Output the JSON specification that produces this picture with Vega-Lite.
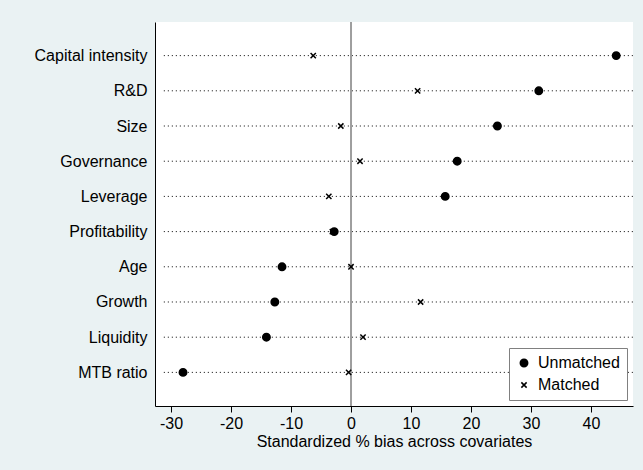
{
  "$schema": "https://vega.github.io/schema/vega-lite/v6.json",
  "autosize": {"type": "none"},
  "width": 478,
  "height": 384,
  "padding": {"left": 155, "top": 22, "right": 10, "bottom": 64},
  "background": "#EAF2F3",
  "config": {
    "view": {"stroke": null, "fill": "white"},
    "font": "Liberation Sans",
    "axis": {"labelFont": "Liberation Sans", "titleFont": "Liberation Sans", "labelColor": "black", "titleColor": "black", "domainColor": "black", "tickColor": "black", "grid": false, "labelFontSize": 16, "titleFontSize": 16, "titleFontWeight": "normal"},
    "legend": {"labelFont": "Liberation Sans", "labelFontSize": 16, "labelColor": "black"}
  },
  "data": {
    "values": [
      {"var": "Capital intensity", "group": "Unmatched", "bias": 44.2},
      {"var": "R&D", "group": "Unmatched", "bias": 31.3},
      {"var": "Size", "group": "Unmatched", "bias": 24.4},
      {"var": "Governance", "group": "Unmatched", "bias": 17.7},
      {"var": "Leverage", "group": "Unmatched", "bias": 15.7},
      {"var": "Profitability", "group": "Unmatched", "bias": -2.8},
      {"var": "Age", "group": "Unmatched", "bias": -11.5},
      {"var": "Growth", "group": "Unmatched", "bias": -12.7},
      {"var": "Liquidity", "group": "Unmatched", "bias": -14.1},
      {"var": "MTB ratio", "group": "Unmatched", "bias": -28.0},
      {"var": "Capital intensity", "group": "Matched", "bias": -6.3},
      {"var": "R&D", "group": "Matched", "bias": 11.1},
      {"var": "Size", "group": "Matched", "bias": -1.7},
      {"var": "Governance", "group": "Matched", "bias": 1.5},
      {"var": "Leverage", "group": "Matched", "bias": -3.7},
      {"var": "Profitability", "group": "Matched", "bias": -3.1},
      {"var": "Age", "group": "Matched", "bias": 0.0},
      {"var": "Growth", "group": "Matched", "bias": 11.6},
      {"var": "Liquidity", "group": "Matched", "bias": 2.0},
      {"var": "MTB ratio", "group": "Matched", "bias": -0.4}
    ]
  },
  "encoding": {
    "y": {
      "field": "var", "type": "nominal",
      "scale": {"type": "point", "padding": 0.955, "domain": ["Capital intensity", "R&D", "Size", "Governance", "Leverage", "Profitability", "Age", "Growth", "Liquidity", "MTB ratio"]},
      "axis": {"title": null, "ticks": false, "labelPadding": 8, "domainWidth": 1}
    }
  },
  "layer": [
    {
      "transform": [{"filter": "datum.group === 'Unmatched'"}],
      "mark": {"type": "rule", "color": "black", "strokeWidth": 1, "strokeDash": [1, 3]},
      "encoding": {
        "x": {"datum": -31.2, "type": "quantitative"},
        "x2": {"datum": 47}
      }
    },
    {
      "data": {"values": [{"z": 0}]},
      "mark": {"type": "rule", "color": "#9E9E9E", "strokeWidth": 2},
      "encoding": {
        "x": {"field": "z", "type": "quantitative"},
        "y": null
      }
    },
    {
      "mark": {"type": "point", "filled": true, "color": "black", "stroke": "black", "strokeWidth": 1.5, "opacity": 1},
      "encoding": {
        "x": {
          "field": "bias", "type": "quantitative",
          "scale": {"domain": [-32.67, 47], "nice": false, "zero": false},
          "axis": {"title": "Standardized % bias across covariates", "values": [-30, -20, -10, 0, 10, 20, 30, 40], "labelExpr": "toString(datum.value)", "tickSize": 6, "labelPadding": 3, "titlePadding": 2, "domainWidth": 1}
        },
        "shape": {
          "field": "group", "type": "nominal",
          "scale": {"domain": ["Unmatched", "Matched"], "range": ["circle", "M-1,-1L1,1M-1,1L1,-1"]},
          "legend": {"title": null, "orient": "bottom-right", "offset": 6, "fillColor": "white", "strokeColor": "#808080", "padding": 7, "rowPadding": 6, "labelOffset": 6, "symbolFillColor": "black", "symbolStrokeColor": "black", "symbolStrokeWidth": 1.5, "symbolOpacity": 1}
        },
        "size": {
          "field": "group", "type": "nominal",
          "scale": {"domain": ["Unmatched", "Matched"], "range": [55, 28]}
        }
      }
    }
  ]
}
